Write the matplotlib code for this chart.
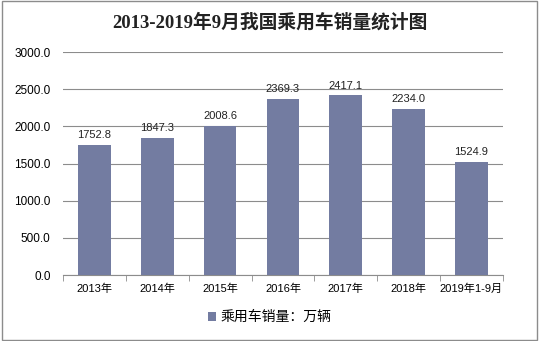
import matplotlib.pyplot as plt
from matplotlib.patches import Rectangle

plt.rcParams['font.family'] = ['Liberation Sans', 'Noto Sans CJK SC', 'DejaVu Sans']
plt.rcParams['axes.unicode_minus'] = False

# 年份与销量（万辆）
years = ['2013年', '2014年', '2015年', '2016年', '2017年', '2018年', '2019年1-9月']
sales = [1752.8, 1847.3, 2008.6, 2369.3, 2417.1, 2234.0, 1524.9]
bar_color = '#737ca1'

fig = plt.figure(figsize=(5.39, 3.41), dpi=100)
fig.patches.append(Rectangle((0.004, 0.004), 0.992, 0.992, transform=fig.transFigure,
                             fill=False, edgecolor='#8c8c8c', linewidth=1))

ax = fig.add_axes([0.117, 0.1935, 0.816, 0.654])
x = range(len(years))
bars = ax.bar(x, sales, width=0.52, color=bar_color, label='乘用车销量：万辆', zorder=3)
for i, v in enumerate(sales):
    ax.text(i, v + 60, '%.1f' % v, ha='center', va='bottom', fontsize=8, color='#222222')

ax.set_ylim(0, 3000)
ax.set_xlim(-0.5, len(years) - 0.5)
ax.set_yticks(range(0, 3001, 500))
ax.set_yticklabels(['%.1f' % t for t in range(0, 3001, 500)], fontsize=8.5)
ax.yaxis.grid(True, color='#8c8c8c', linewidth=0.8, zorder=0)
ax.tick_params(axis='y', length=0, pad=9)

ax.set_xticks(list(x))
ax.set_xticklabels(years, fontsize=8)
ax.set_xticks([i - 0.5 for i in range(len(years) + 1)], minor=True)
ax.tick_params(axis='x', which='major', length=0, pad=6)
ax.tick_params(axis='x', which='minor', length=4, color='#8c8c8c', direction='out')

for s in ['top', 'right', 'left']:
    ax.spines[s].set_visible(False)
ax.spines['bottom'].set_color('#8c8c8c')

fig.text(0.5, 0.935, '2013-2019年9月我国乘用车销量统计图', ha='center', va='center',
         fontsize=13.5, fontweight='bold', color='#222222',
         family=['Liberation Serif', 'Noto Sans CJK SC'])

fig.legend(handles=[bars], labels=['乘用车销量：万辆'], loc='center', bbox_to_anchor=(0.5, 0.07),
           frameon=False, fontsize=10, handlelength=0.6, handleheight=0.6, handletextpad=0.3)

fig.savefig('out.png', dpi=100)
